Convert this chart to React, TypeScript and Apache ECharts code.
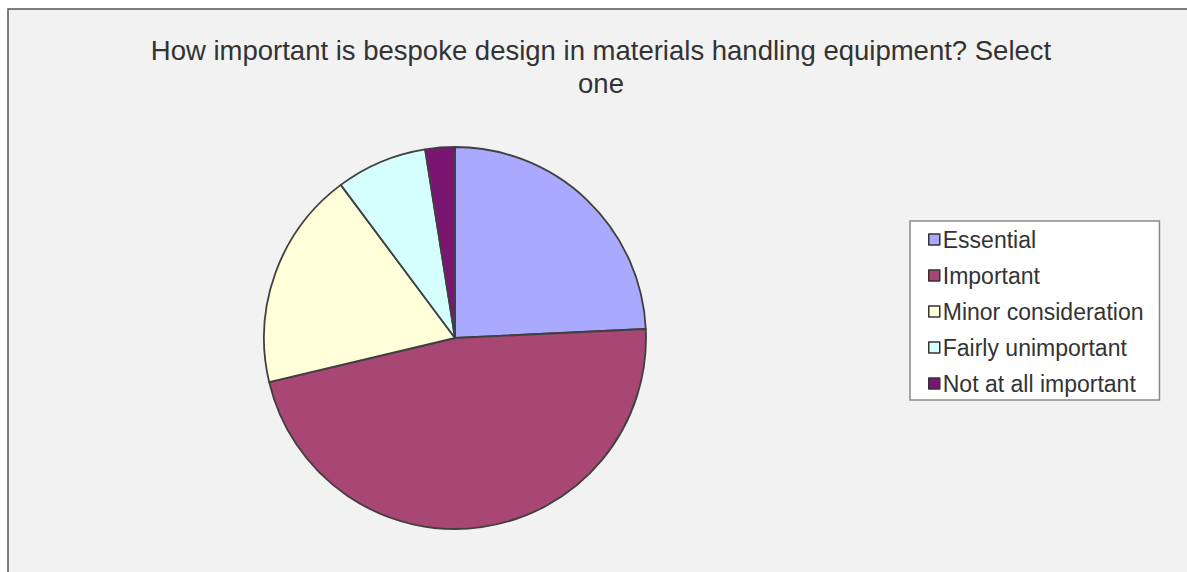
import React, { useEffect, useRef } from "react";
import * as echarts from "echarts";

const titleText = "How important is bespoke design in materials handling equipment? Select\none";
const categories = ["Essential", "Important", "Minor consideration", "Fairly unimportant", "Not at all important"];
const values = [24.25, 47.05, 18.5, 7.7, 2.5];
const colors = ["#a9a9ff", "#a84674", "#ffffd9", "#d5ffff", "#7a1672"];

export default function App() {
  const ref = useRef<HTMLDivElement>(null);
  useEffect(() => {
    if (!ref.current) return;
    const chart = echarts.init(ref.current, undefined, { renderer: "svg" });
    chart.setOption({
      animation: false,
      backgroundColor: "#ffffff",
      graphic: [
        {
          type: "rect",
          z: -10,
          silent: true,
          shape: { x: 8, y: 9, width: 1400, height: 800 },
          style: { fill: "#f2f2f2", stroke: "#555555", lineWidth: 1.5 },
        },
      ],
      title: {
        text: titleText,
        left: 601,
        top: 34,
        padding: 0,
        textAlign: "center",
        textStyle: {
          fontFamily: "'Liberation Sans', Arial, sans-serif",
          fontSize: 27.5,
          fontWeight: "normal",
          lineHeight: 33,
          color: "#333333",
        },
      },
      legend: {
        orient: "vertical",
        left: 910,
        top: 221,
        padding: [7, 16, 5, 18],
        itemGap: 13,
        itemWidth: 11,
        itemHeight: 11,
        icon: "rect",
        backgroundColor: "#ffffff",
        borderColor: "#8a8a8a",
        borderWidth: 1.5,
        borderRadius: 0,
        itemStyle: { borderColor: "#333333", borderWidth: 1.5 },
        textStyle: {
          fontFamily: "'Liberation Sans', Arial, sans-serif",
          fontSize: 23,
          lineHeight: 22,
          color: "#333333",
          padding: [0, 0, 0, -2],
        },
        data: categories,
      },
      series: [
        {
          type: "pie",
          center: [455, 338],
          radius: 191,
          startAngle: 90,
          clockwise: true,
          label: { show: false },
          labelLine: { show: false },
          emphasis: { disabled: true },
          itemStyle: { borderColor: "#404040", borderWidth: 1.8 },
          data: categories.map((name, i) => ({
            name,
            value: values[i],
            itemStyle: { color: colors[i] },
          })),
        },
      ],
    });
    return () => chart.dispose();
  }, []);
  return (
    <div
      ref={ref}
      style={{ position: "absolute", left: 0, top: 0, width: 1187, height: 572 }}
    />
  );
}
